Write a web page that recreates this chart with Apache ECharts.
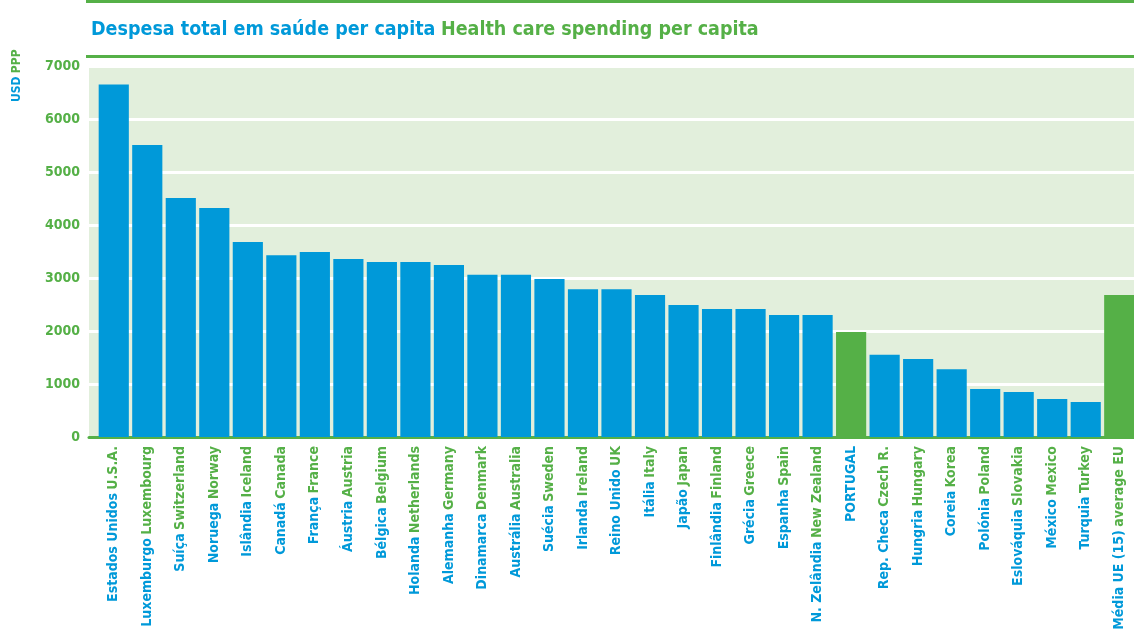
<!DOCTYPE html>
<html>
<head>
<meta charset="utf-8">
<script src="https://cdn.jsdelivr.net/npm/echarts@6/dist/echarts.min.js"></script>
<style>
  html, body { margin: 0; padding: 0; background: #fff; }
  #chart { width: 1134px; height: 630px; }
</style>
</head>
<body>
<div id="chart"></div>
<script>
const BLUE = '#0099d9'
const GREEN = '#55b047'
const FONT = '"DejaVu Sans Condensed", "Liberation Sans Narrow", sans-serif'

// Portuguese name (blue) + English name (green)
const namesPt = ['Estados Unidos', 'Luxemburgo', 'Suíça', 'Noruega', 'Islândia', 'Canadá', 'França', 'Áustria',
  'Bélgica', 'Holanda', 'Alemanha', 'Dinamarca', 'Austrália', 'Suécia', 'Irlanda', 'Reino Unido', 'Itália',
  'Japão', 'Finlândia', 'Grécia', 'Espanha', 'N. Zelândia', 'PORTUGAL', 'Rep. Checa', 'Hungria', 'Coreia',
  'Polónia', 'Eslováquia', 'México', 'Turquia', 'Média UE (15)']
const namesEn = ['U.S.A.', 'Luxembourg', 'Switzerland', 'Norway', 'Iceland', 'Canada', 'France', 'Austria',
  'Belgium', 'Netherlands', 'Germany', 'Denmark', 'Australia', 'Sweden', 'Ireland', 'UK', 'Italy',
  'Japan', 'Finland', 'Greece', 'Spain', 'New Zealand', '', 'Czech R.', 'Hungary', 'Korea',
  'Poland', 'Slovakia', 'Mexico', 'Turkey', 'average EU']
// USD PPP per capita
const spending = [6650, 5510, 4510, 4320, 3680, 3430, 3490, 3360, 3300, 3300, 3245, 3060, 3060, 2980,
  2790, 2790, 2680, 2490, 2415, 2415, 2300, 2300, 1980, 1550, 1470, 1280, 905, 850, 717, 660, 2680]
const highlighted = ['PORTUGAL', 'Média UE (15)']
const yTicks = [0, 1000, 2000, 3000, 4000, 5000, 6000, 7000]

const chart = echarts.init(document.getElementById('chart'))

chart.setOption({
  animation: false,
  textStyle: { fontFamily: FONT },
  title: {
    left: 86,
    top: 15,
    text: '{a|Despesa total em saúde per capita} {b|Health care spending per capita}',
    textStyle: {
      rich: {
        a: { color: BLUE, fontSize: 19.5, fontWeight: 'bold', fontFamily: FONT },
        b: { color: GREEN, fontSize: 19.5, fontWeight: 'bold', fontFamily: FONT }
      }
    }
  },
  graphic: [
    { type: 'rect', shape: { x: 86, y: 0, width: 1048, height: 3 }, style: { fill: GREEN } },
    { type: 'rect', shape: { x: 86, y: 55, width: 1048, height: 3 }, style: { fill: GREEN } },
    {
      type: 'text',
      x: 11, y: 102,
      rotation: Math.PI / 2,
      style: {
        text: '{a|USD} {b|PPP}',
        rich: {
          a: { fill: BLUE, fontSize: 12, fontWeight: 'bold', fontFamily: FONT },
          b: { fill: GREEN, fontSize: 12, fontWeight: 'bold', fontFamily: FONT }
        }
      }
    }
  ],
  grid: [
    // frame: background, gridlines, y labels
    { left: 89, right: 0, top: 66, bottom: 193, show: true, backgroundColor: '#e2efdc', borderWidth: 0, outerBoundsMode: 'none' },
    // bars
    { left: 97, right: -2, top: 66, bottom: 193, outerBoundsMode: 'none' }
  ],
  xAxis: [
    {
      gridIndex: 0, type: 'value', min: 0, max: 1,
      axisLine: { show: true, onZero: false, lineStyle: { color: GREEN, width: 3 } },
      axisTick: { show: false },
      axisLabel: { show: false }, splitLine: { show: false }
    },
    {
      gridIndex: 1, type: 'category', data: namesPt,
      axisLine: { show: false },
      axisTick: { show: false },
      axisLabel: {
        rotate: 90,
        interval: 0,
        margin: 9,
        formatter: (v, i) => namesEn[i] ? `{a|${v}} {b|${namesEn[i]}}` : `{a|${v}}`,
        rich: {
          a: { color: BLUE, fontSize: 14, fontWeight: 'bold', fontFamily: FONT },
          b: { color: GREEN, fontSize: 14, fontWeight: 'bold', fontFamily: FONT }
        }
      }
    }
  ],
  yAxis: [
    {
      gridIndex: 0, type: 'value', min: 0, max: 7000, interval: 1000,
      axisLine: { show: false }, axisTick: { show: false },
      axisLabel: {
        margin: 9,
        color: GREEN, fontSize: 14, fontWeight: 'bold', fontFamily: FONT,
        padding: [6, 0, 0, 0],
        formatter: v => yTicks.includes(v) ? String(v) : ''
      },
      splitLine: { show: true, lineStyle: { color: '#ffffff', width: 3 } }
    },
    {
      gridIndex: 1, type: 'value', min: 0, max: 7000, interval: 1000,
      axisLine: { show: false }, axisTick: { show: false },
      axisLabel: { show: false }, splitLine: { show: false }
    }
  ],
  series: [
    {
      type: 'bar',
      xAxisIndex: 1,
      yAxisIndex: 1,
      barCategoryGap: '10%',
      data: spending.map((v, i) => ({
        value: v,
        itemStyle: { color: highlighted.includes(namesPt[i]) ? GREEN : BLUE }
      }))
    }
  ]
})
</script>
</body>
</html>
